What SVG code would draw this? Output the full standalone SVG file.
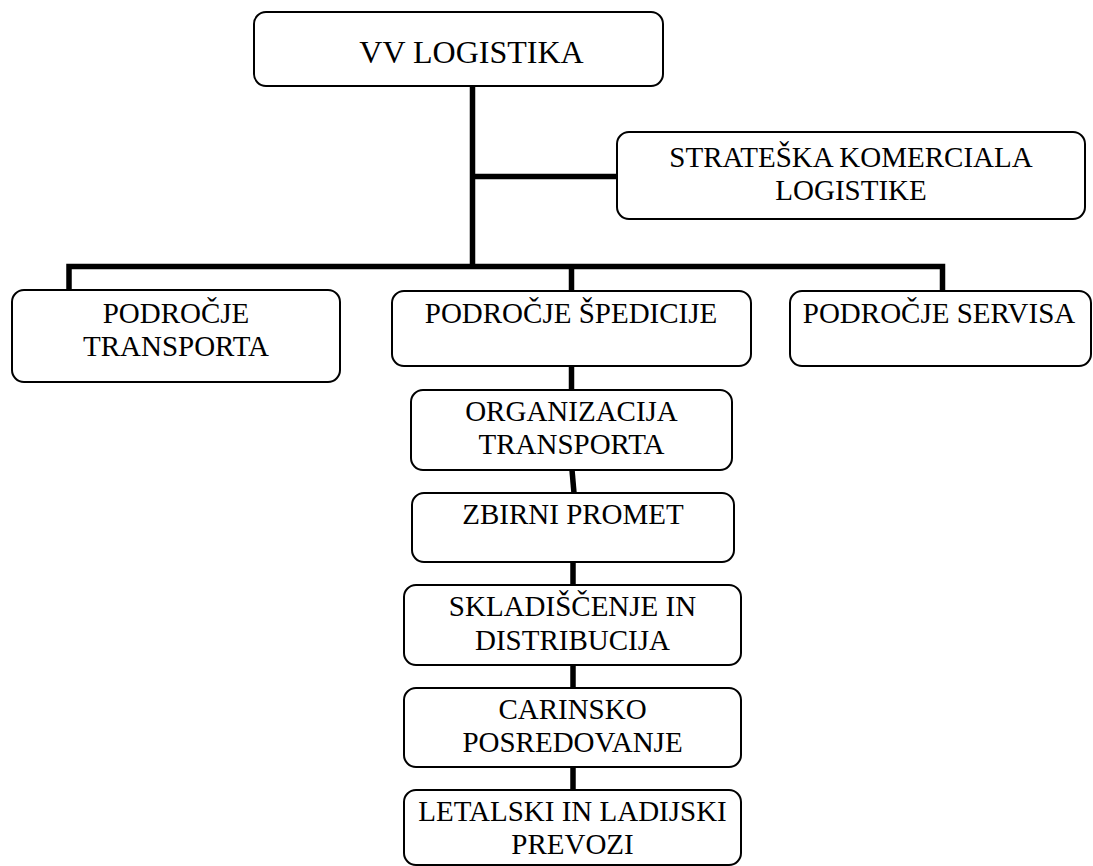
<svg xmlns="http://www.w3.org/2000/svg" width="1093" height="866" viewBox="0 0 1093 866">
<style>
.box{fill:#fff;stroke:#000;stroke-width:2}
.lbl{font-family:"Liberation Serif","Times New Roman",serif;font-size:29px;fill:#000;text-anchor:middle}
.big{font-size:32px}
.con{fill:none;stroke:#000;stroke-width:5.5;stroke-linecap:butt;stroke-linejoin:miter}
</style>
<rect width="1093" height="866" fill="#fff"/>
<g id="connectors">
<path class="con" d="M472.5,86 V266.5"/>
<path class="con" d="M472.5,176.5 H617"/>
<path class="con" d="M69,291 V266.5 H942.5 V291"/>
<path class="con" d="M571.5,266.5 V291"/>
<path class="con" d="M571.5,366 V390"/>
<path class="con" d="M572,470 L574,493"/>
<path class="con" d="M573,562 V585"/>
<path class="con" d="M573,665 V688"/>
<path class="con" d="M573,767 V790"/>
</g>
<g id="vv-logistika">
<rect class="box" x="254" y="12" width="409" height="74" rx="12"/>
<text class="lbl big" x="471.5" y="63">VV LOGISTIKA</text>
</g>
<g id="strateska">
<rect class="box" x="617" y="132" width="468" height="87" rx="12"/>
<text class="lbl" x="851" y="167">STRATEŠKA KOMERCIALA</text>
<text class="lbl" x="851" y="200">LOGISTIKE</text>
</g>
<g id="podrocje-transporta">
<rect class="box" x="12" y="290" width="328" height="92" rx="12"/>
<text class="lbl" x="176" y="323">PODROČJE</text>
<text class="lbl" x="176" y="356">TRANSPORTA</text>
</g>
<g id="podrocje-spedicije">
<rect class="box" x="392" y="291" width="359" height="75" rx="12"/>
<text class="lbl" x="571" y="323">PODROČJE ŠPEDICIJE</text>
</g>
<g id="podrocje-servisa">
<rect class="box" x="790" y="291" width="301" height="75" rx="12"/>
<text class="lbl" x="939" y="323">PODROČJE SERVISA</text>
</g>
<g id="organizacija-transporta">
<rect class="box" x="411" y="390" width="321" height="80" rx="12"/>
<text class="lbl" x="571.5" y="421">ORGANIZACIJA</text>
<text class="lbl" x="571.5" y="454">TRANSPORTA</text>
</g>
<g id="zbirni-promet">
<rect class="box" x="412" y="493" width="322" height="69" rx="12"/>
<text class="lbl" x="573" y="524">ZBIRNI PROMET</text>
</g>
<g id="skladiscenje">
<rect class="box" x="404" y="585" width="337" height="80" rx="12"/>
<text class="lbl" x="572.5" y="616">SKLADIŠČENJE IN</text>
<text class="lbl" x="572.5" y="650">DISTRIBUCIJA</text>
</g>
<g id="carinsko">
<rect class="box" x="404" y="688" width="337" height="79" rx="12"/>
<text class="lbl" x="572.5" y="719">CARINSKO</text>
<text class="lbl" x="572.5" y="752">POSREDOVANJE</text>
</g>
<g id="letalski">
<rect class="box" x="404" y="790" width="337" height="75" rx="12"/>
<text class="lbl" x="572.5" y="821">LETALSKI IN LADIJSKI</text>
<text class="lbl" x="572.5" y="854">PREVOZI</text>
</g>
</svg>
